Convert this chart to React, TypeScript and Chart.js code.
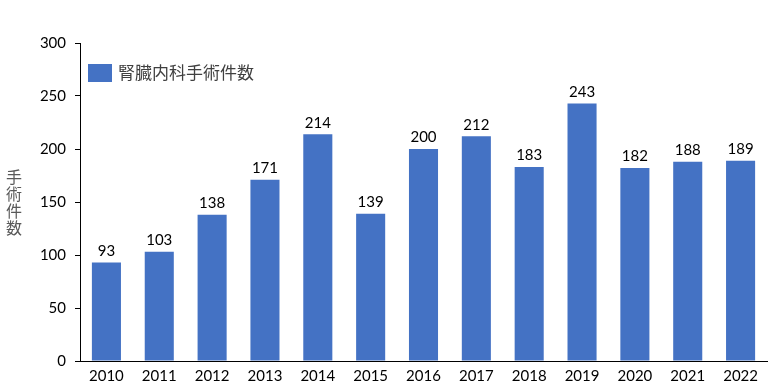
import React, { useEffect, useRef } from "react";
import { Chart, registerables } from "chart.js";

Chart.register(...registerables);

const categories = ["2010", "2011", "2012", "2013", "2014", "2015", "2016", "2017", "2018", "2019", "2020", "2021", "2022"];
const surgeries = [93, 103, 138, 171, 214, 139, 200, 212, 183, 243, 182, 188, 189];
const seriesName = "腎臓内科手術件数";
const yTitleChars = ["手", "術", "件", "数"];

const NUM_FONT = "Lato, 'Liberation Sans', sans-serif";
const CJK_FONT = "'Noto Sans CJK JP', sans-serif";
const BAR_COLOR = "#4472C4";

export default function App() {
  const ref = useRef<HTMLCanvasElement | null>(null);

  useEffect(() => {
    if (!ref.current) return;
    const overlay = {
      id: "overlay",
      afterDatasetsDraw(chart: any) {
        const ctx = chart.ctx;
        const meta = chart.getDatasetMeta(0);
        ctx.save();
        ctx.fillStyle = "#000000";
        ctx.font = `15px ${NUM_FONT}`;
        ctx.textAlign = "center";
        ctx.textBaseline = "bottom";
        meta.data.forEach((bar: any, i: number) => {
          ctx.fillText(String(surgeries[i]), bar.x, bar.y - 4);
        });
        // legend
        const area = chart.chartArea;
        const lx = area.left + 8;
        const ly = area.top + 21;
        ctx.fillStyle = BAR_COLOR;
        ctx.fillRect(lx, ly, 24, 18);
        ctx.fillStyle = "#404040";
        ctx.font = `17px ${CJK_FONT}`;
        ctx.textAlign = "left";
        ctx.textBaseline = "middle";
        ctx.fillText(seriesName, lx + 30, ly + 9);
        // y title stacked
        ctx.fillStyle = "#595959";
        ctx.font = `16px ${CJK_FONT}`;
        ctx.textAlign = "center";
        yTitleChars.forEach((c, i) => {
          ctx.fillText(c, 14, 177 + i * 17);
        });
        ctx.restore();
      },
    };
    const chart = new Chart(ref.current, {
      type: "bar",
      data: {
        labels: categories,
        datasets: [
          {
            label: seriesName,
            data: surgeries,
            backgroundColor: BAR_COLOR,
            categoryPercentage: 1,
            barPercentage: 0.55,
          },
        ],
      },
      options: {
        animation: false,
        responsive: false,
        maintainAspectRatio: false,
        layout: { padding: { top: 43, right: 16, left: 0, bottom: 0 } },
        plugins: { legend: { display: false }, tooltip: { enabled: false } },
        scales: {
          x: {
            grid: { display: false, drawTicks: false },
            border: { display: true, color: "#000000", width: 1 },
            ticks: { color: "#000000", font: { family: NUM_FONT, size: 15 }, padding: 6, maxRotation: 0 },
            afterFit(scale: any) {
              scale.height = 29;
            },
          },
          y: {
            min: 0,
            max: 300,
            ticks: { stepSize: 50, color: "#000000", font: { family: NUM_FONT, size: 15 }, padding: 9 },
            grid: { drawOnChartArea: false, drawTicks: true, tickLength: 5, color: "#000000" },
            border: { display: true, color: "#000000", width: 1 },
            afterFit(scale: any) {
              scale.width = 80;
            },
          },
        },
      },
      plugins: [overlay],
    });
    return () => chart.destroy();
  }, []);

  return (
    <div style={{ position: "fixed", left: 0, top: 0, width: 783, height: 390, background: "#ffffff" }}>
      <canvas ref={ref} width={783} height={390} style={{ width: 783, height: 390 }} />
    </div>
  );
}
